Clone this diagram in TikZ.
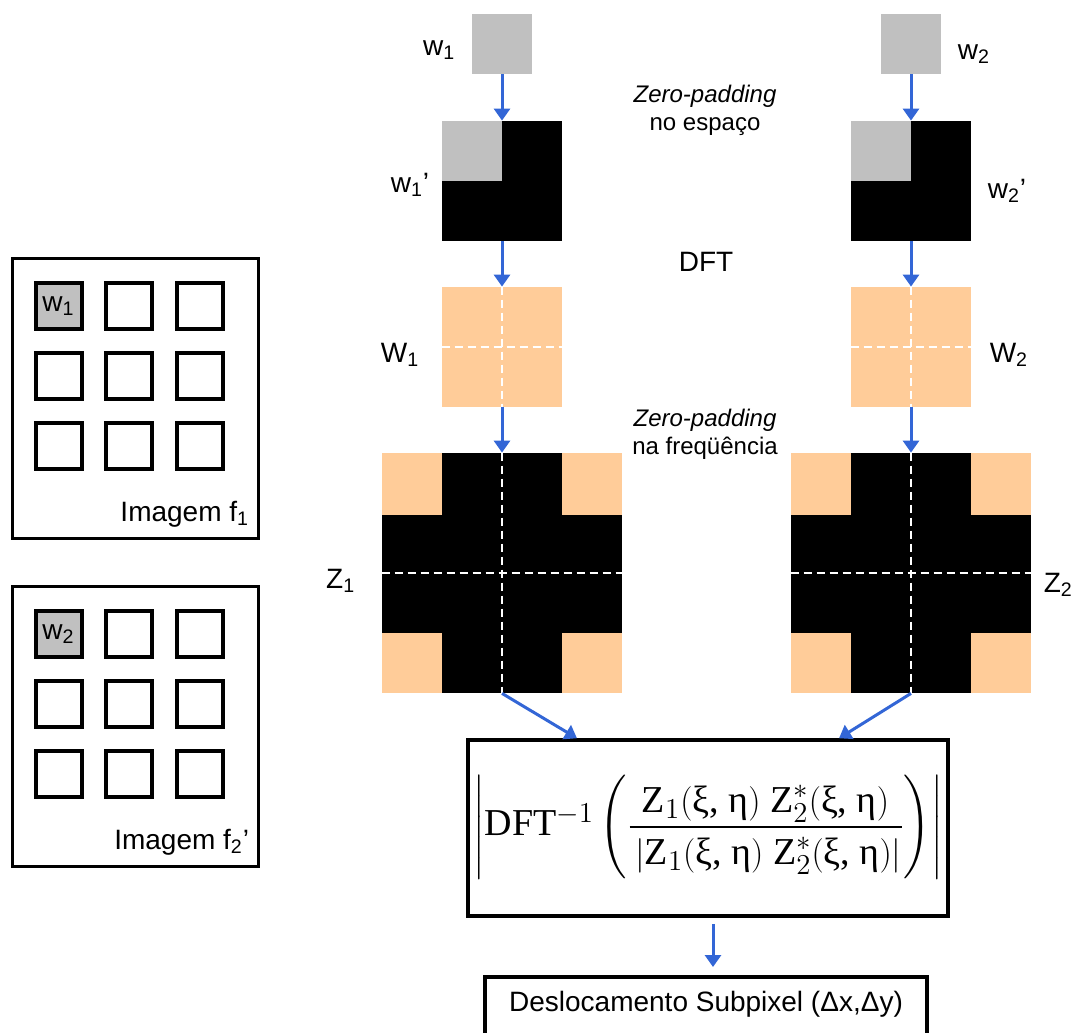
\documentclass[tikz,border=0pt]{standalone}
\usepackage{amsmath}
\usepackage{fontspec}
\setmainfont{Liberation Sans}
\newfontfamily\tms{Liberation Serif}
\usepackage{xcolor}
\usepackage{tikz}
\usetikzlibrary{positioning,calc,arrows.meta}
\definecolor{wingray}{HTML}{C0C0C0}
\definecolor{peach}{HTML}{FFCC99}
\definecolor{flowblue}{HTML}{3366D6}
\newcommand{\zprod}{\text{Z}_1(\text{ξ, η})\;\text{Z}_2^{*}(\text{ξ, η})}

\begin{document}
\begin{tikzpicture}[x=0.5pt,y=-0.5pt,
   win/.style={fill=wingray,inner sep=0pt,minimum size=30pt},
   padbox/.style={fill=black,inner sep=0pt,minimum size=60pt},
   spec/.style={fill=peach,inner sep=0pt,minimum size=60pt},
   bigspec/.style={fill=peach,inner sep=0pt,minimum size=120pt},
   cell/.style={draw,line width=2pt,inner sep=0pt,minimum size=23pt},
   panel/.style={draw,line width=1.5pt,inner sep=0pt,minimum width=123pt,minimum height=140pt},
   flow/.style={draw=flowblue,line width=1.5pt,-{Triangle[width=8pt,length=6pt]}},
   axis/.style={white,line width=0.8pt,dash pattern=on 4pt off 2.5pt},
   lbl/.style={font=\fontsize{14}{16}\selectfont,inner sep=0pt},
   note/.style={font=\fontsize{12}{14}\selectfont,align=center,inner sep=0pt},
   node distance=8pt]

 \useasboundingbox (0,0) rectangle (1074,1032);

 % left: the two images
 \node[panel] (img1) at (135,398) {};
 \node[panel] (img2) at (135,726) {};
 \foreach \c/\x in {1/58.5,2/129,3/199.5}
  \foreach \r/\y in {1/306,2/376,3/446}
  {\node[cell] (a\r\c) at (\x,\y) {};
   \node[cell] (b\r\c) at (\x,\y+328) {};}
 \node[cell,fill=wingray,lbl] at (a11) {w\textsubscript{1}};
 \node[cell,fill=wingray,lbl] at (b11) {w\textsubscript{2}};
 \node[lbl,anchor=south east] (f1) at ($(img1.south east)+(-5pt,6pt)$) {Imagem f\textsubscript{1}};
 \node[lbl,anchor=south east] (f2) at ($(img2.south east)+(-5pt,6pt)$) {Imagem f\textsubscript{2}’};

 % windows
 \node[win] (w1) at (502,44) {};
 \node[win] (w2) at (911,44) {};
 \node[lbl,left=of w1,yshift=-3pt] {w\textsubscript{1}};
 \node[lbl,right=of w2,yshift=-5pt] {w\textsubscript{2}};

 % zero-padding in space
 \node[padbox] (w1p) at (502,181) {};
 \node[padbox] (w2p) at (911,181) {};
 \fill[wingray] (w1p.north west) rectangle (w1p.center);
 \fill[wingray] (w2p.north west) rectangle (w2p.center);
 \node[lbl,left=6pt of w1p,yshift=-2pt] {w\textsubscript{1}’};
 \node[lbl,right=8pt of w2p,yshift=-5pt] {w\textsubscript{2}’};
 \node[note] (zp1) at (705,110) {\textit{Zero-padding}\\no espaço};
 \node[lbl] (dft) at (706,262) {DFT};

 % spectra
 \node[spec] (W1) at (502,347) {};
 \node[spec] (W2) at (911,347) {};
 \foreach \n in {W1,W2}
 {\draw[axis] (\n.north) -- (\n.south);
  \draw[axis] (\n.west) -- (\n.east);}
 \node[lbl,left=11pt of W1,yshift=-4pt] {W\textsubscript{1}};
 \node[lbl,right=9pt of W2,yshift=-4pt] {W\textsubscript{2}};
 \node[note] (zp2) at (705,434) {\textit{Zero-padding}\\na freqüência};

 % zero-padding in frequency
 \node[bigspec] (Z1) at (502,573) {};
 \node[bigspec] (Z2) at (911,573) {};
 \foreach \n in {Z1,Z2}
 {\fill[black] ($(\n.north west)+(30pt,0)$) rectangle ($(\n.south east)+(-30pt,0)$);
  \fill[black] ($(\n.north west)+(0,-31pt)$) rectangle ($(\n.south east)+(0,30pt)$);
  \draw[axis] (\n.north) -- (\n.south);
  \draw[axis] (\n.west) -- (\n.east);}
 \node[lbl,left=13pt of Z1,yshift=-4pt] {Z\textsubscript{1}};
 \node[lbl,right=6pt of Z2,yshift=-6pt] {Z\textsubscript{2}};

 % phase correlation
 \node[draw,line width=1.75pt,minimum width=240pt,minimum height=88pt,inner sep=0pt,
   font=\tms\fontsize{19}{23}\selectfont] (res) at (708,828)
   {$\left|\text{DFT}^{-1}\left(\dfrac{\rule[-5pt]{0pt}{24pt}\zprod}{\rule[-9pt]{0pt}{25pt}\left|\zprod\right|}\right)\right|$};
 \node[draw,line width=1.75pt,minimum width=221pt,minimum height=32pt,inner sep=0pt,
   anchor=north,font=\fontsize{14}{16}\selectfont] (out) at (706,975)
   {\raisebox{7pt}{Deslocamento Subpixel (Δx,Δy)}};

 % arrows
 \draw[flow] (w1) -- (w1p);
 \draw[flow] (w2) -- (w2p);
 \draw[flow] (w1p) -- (W1);
 \draw[flow] (w2p) -- (W2);
 \draw[flow] (W1) -- (Z1);
 \draw[flow] (W2) -- (Z2);
 \draw[flow] (Z1.south) -- ($(res.north west)!0.229!(res.north east)$);
 \draw[flow] (Z2.south) -- ($(res.north west)!0.771!(res.north east)$);
 \draw[flow] ($(res.south)+(2.5pt,-3pt)$) -- ($(out.north)+(3.5pt,4pt)$);
\end{tikzpicture}
\end{document}
